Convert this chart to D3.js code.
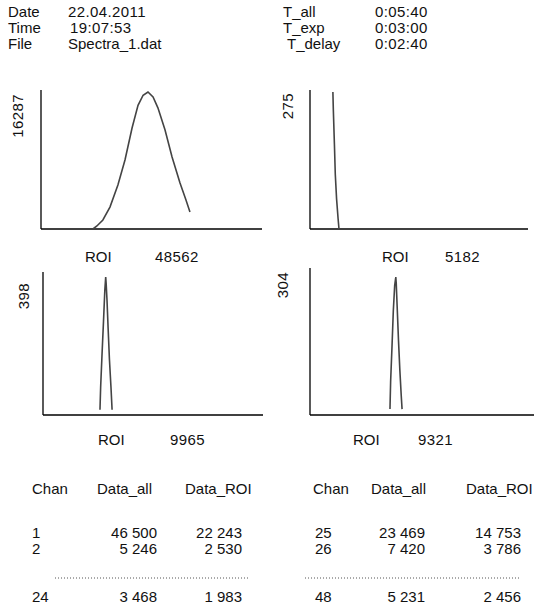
<!DOCTYPE html>
<html>
<head>
<meta charset="utf-8">
<script src="https://cdn.jsdelivr.net/npm/d3@7"></script>
<style>
  body { margin: 0; background: #fff; }
  svg text { font-family: "Liberation Sans", Arial, sans-serif; font-size: 15px; fill: #111; }
  svg text.num { letter-spacing: 0.4px; }
</style>
</head>
<body>
<div id="chart"></div>
<script>
// header info
const infoLeftKeys = ["Date", "Time", "File"]
const infoLeftVals = ["22.04.2011", "19:07:53", "Spectra_1.dat"]
const infoRightKeys = ["T_all", "T_exp", "T_delay"]
const infoRightVals = ["0:05:40", "0:03:00", "0:02:40"]

// spectra (channel, counts)
const spec1Chan = [23.5, 25.3, 28, 31.2, 34.8, 38, 41.2, 43.9, 46.2, 48.4, 50.7, 52.9, 56.1, 59.3, 62.9, 65.6, 67.4]
const spec1Counts = [0, 360, 1070, 2610, 5230, 8200, 12000, 14700, 15900, 16287, 15700, 14400, 11800, 8560, 5470, 3450, 2020]
const spec2Chan = [10.5, 10.7, 11.2, 11.6, 12.2, 12.9, 13.3]
const spec2Counts = [275, 240, 170, 110, 60, 20, 0]
const spec3Chan = [25.9, 26.2, 26.8, 27.5, 28.1, 28.5, 28.7, 29.1, 29.6, 30.2, 30.9, 31.4]
const spec3Counts = [15, 80, 170, 270, 360, 398, 380, 330, 250, 160, 80, 15]
const spec4Chan = [35.7, 36, 36.6, 37.2, 37.8, 38.3, 38.5, 38.9, 39.5, 40.1, 40.7, 41.1]
const spec4Counts = [13, 75, 150, 230, 285, 304, 290, 240, 165, 100, 45, 13]
const peakLabels = ["16287", "275", "398", "304"]
const roiValues = ["48562", "5182", "9965", "9321"]

// table
const tableHeader = ["Chan", "Data_all", "Data_ROI"]
const chanLeft = [1, 2, 24]
const allLeft = [46500, 5246, 3468]
const roiLeft = [22243, 2530, 1983]
const chanRight = [25, 26, 48]
const allRight = [23469, 7420, 5231]
const roiRight = [14753, 3786, 2456]

const width = 543
const height = 606

const svg = d3
  .select("#chart")
  .append("svg")
  .attr("width", width)
  .attr("height", height)

// header block
const lineY = [17, 33, 49]
infoLeftKeys.forEach(function(k, i) {
  svg.append("text").attr("x", 8).attr("y", lineY[i]).text(k)
  svg.append("text").attr("class", i < 2 ? "num" : null)
    .attr("x", i === 1 ? 70 : 68).attr("y", lineY[i]).text(infoLeftVals[i])
})
infoRightKeys.forEach(function(k, i) {
  svg.append("text").attr("x", i === 2 ? 287 : 283).attr("y", lineY[i]).text(k)
  svg.append("text").attr("class", "num").attr("x", 375).attr("y", lineY[i]).text(infoRightVals[i])
})

// panels: plot box for each spectrum
const panels = [
  { chan: spec1Chan, counts: spec1Counts, x0: 41, x1: 262, top: 92, base: 229, axisTop: 90, lab: [18, 94], roi: [85, 155, 262] },
  { chan: spec2Chan, counts: spec2Counts, x0: 310, x1: 528, top: 92, base: 229, axisTop: 90, lab: [288, 93], roi: [382, 445, 262] },
  { chan: spec3Chan, counts: spec3Counts, x0: 43, x1: 263, top: 277, base: 415, axisTop: 272, lab: [24, 283], roi: [98, 170, 445] },
  { chan: spec4Chan, counts: spec4Counts, x0: 310, x1: 534, top: 277, base: 415, axisTop: 268, lab: [283, 272], roi: [353, 418, 445] }
]

panels.forEach(function(p, i) {
  const xScale = d3.scaleLinear().domain([0, 100]).range([p.x0, p.x1])
  const yScale = d3.scaleLinear().domain([0, +peakLabels[i]]).range([p.base, p.top])

  // axes lines
  svg.append("line")
    .attr("x1", p.x0).attr("x2", p.x0)
    .attr("y1", p.axisTop).attr("y2", p.base)
    .attr("stroke", "#000").attr("stroke-width", 1.3)
  svg.append("line")
    .attr("x1", p.x0).attr("x2", p.x1)
    .attr("y1", p.base).attr("y2", p.base)
    .attr("stroke", "#000").attr("stroke-width", 1.3)

  const line = d3.line()
    .x(function(d) { return xScale(d[0]) })
    .y(function(d) { return yScale(d[1]) })

  svg.append("path")
    .datum(p.chan.map(function(c, j) { return [c, p.counts[j]] }))
    .attr("d", line)
    .attr("fill", "none")
    .attr("stroke", "#444")
    .attr("stroke-width", 1.6)

  // peak label (rotated)
  svg.append("text").attr("class", "num")
    .attr("transform", "translate(" + (p.lab[0] + 5) + "," + p.lab[1] + ")rotate(-90)")
    .attr("text-anchor", "end")
    .text(peakLabels[i])

  // ROI caption
  svg.append("text").attr("x", p.roi[0]).attr("y", p.roi[2]).text("ROI")
  svg.append("text").attr("class", "num").attr("x", p.roi[1]).attr("y", p.roi[2]).text(roiValues[i])
})

// table
const fmt = function(v) { return d3.format(",")(v).replace(",", " ") }
const rowY = [538, 554, 602]

function drawTable(xChan, xAll, xRoi, hdrX, chans, alls, rois, dotX) {
  tableHeader.forEach(function(h, i) {
    svg.append("text").attr("x", hdrX[i]).attr("y", 494).text(h)
  })
  chans.forEach(function(c, i) {
    svg.append("text").attr("x", xChan).attr("y", rowY[i]).text(c)
    svg.append("text").attr("x", xAll).attr("y", rowY[i]).attr("text-anchor", "end").text(fmt(alls[i]))
    svg.append("text").attr("x", xRoi).attr("y", rowY[i]).attr("text-anchor", "end").text(fmt(rois[i]))
  })
  svg.append("line")
    .attr("x1", dotX[0]).attr("x2", dotX[1])
    .attr("y1", 578).attr("y2", 578)
    .attr("stroke", "#555").attr("stroke-width", 1)
    .attr("stroke-dasharray", "1,2")
}

drawTable(32, 157, 242, [32, 97, 185], chanLeft, allLeft, roiLeft, [55, 248])
drawTable(315, 425, 521, [313, 371, 466], chanRight, allRight, roiRight, [305, 520])
</script>
</body>
</html>
